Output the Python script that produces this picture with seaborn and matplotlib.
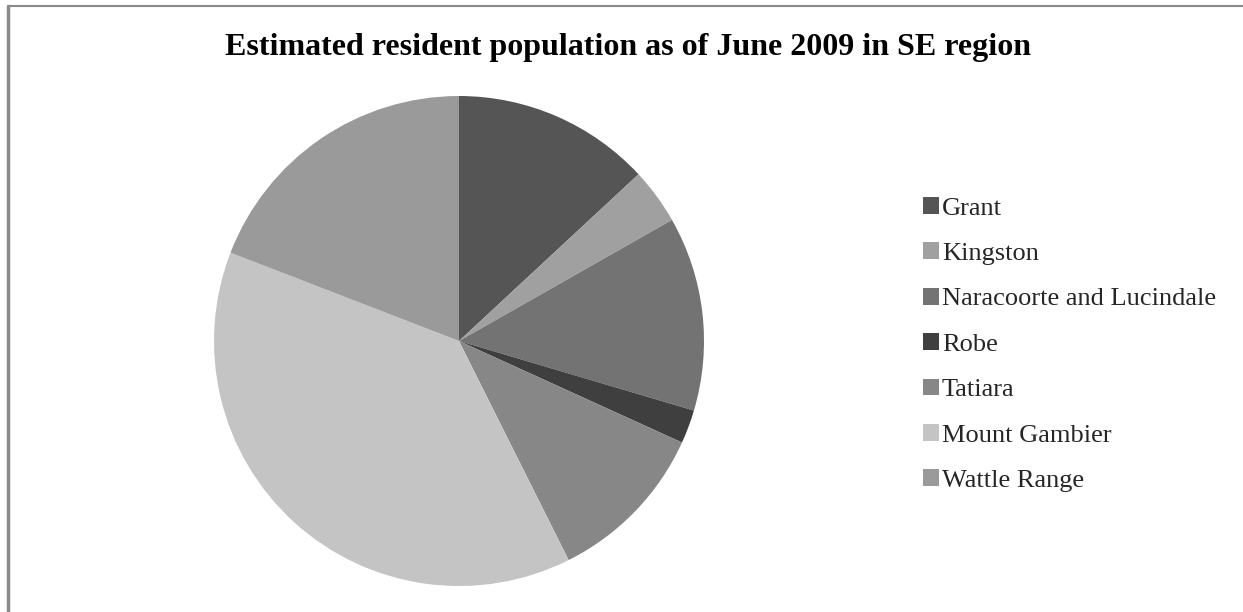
import matplotlib
matplotlib.use("Agg")
import matplotlib.pyplot as plt
import seaborn as sns
from matplotlib.patches import Patch
from matplotlib.lines import Line2D

categories = ["Grant", "Kingston", "Naracoorte and Lucindale", "Robe",
              "Tatiara", "Mount Gambier", "Wattle Range"]
population = [8450, 2380, 8270, 1430, 6980, 24700, 12350]
colors = ["#555555", "#a0a0a0", "#737373", "#3f3f3f", "#878787", "#c4c4c4", "#9a9a9a"]
title = "Estimated resident population as of June 2009 in SE region"

sns.set_theme(style="white")
plt.rcParams["font.family"] = ["Liberation Serif", "DejaVu Serif"]

W, H = 1243, 612
fig = plt.figure(figsize=(W / 100, H / 100), dpi=100)
fig.patch.set_facecolor("white")

# pie axes: center (459, 341), radius 245 px
cx, cy, r = 459, 341, 245
ax = fig.add_axes([(cx - r) / W, (H - cy - r) / H, 2 * r / W, 2 * r / H])
wedges, _ = ax.pie(population, colors=colors, startangle=90, counterclock=False,
                   radius=1, wedgeprops=dict(linewidth=0))
ax.set_xlim(-1, 1)
ax.set_ylim(-1, 1)
ax.set_aspect("equal")
ax.axis("off")

fig.text(628 / W, 1 - 48 / H, title, ha="center", va="center",
         fontsize=23, fontweight="bold", color="black")

# legend
handles = [Patch(facecolor=c, edgecolor="none") for c in colors]
leg = fig.legend(handles, categories, loc="upper left",
                 bbox_to_anchor=(923 / W, 1 - 197 / H), frameon=False,
                 fontsize=19, handlelength=0.6, handleheight=0.6,
                 handletextpad=0.12, labelspacing=0.86, borderpad=0,
                 borderaxespad=0)

# outer frame (top and left edges visible)
fig.add_artist(Line2D([8 / W, 8 / W], [0, 1 - 6 / H], transform=fig.transFigure,
                      color="#8a8a8a", linewidth=2.5))
fig.add_artist(Line2D([8 / W, 1], [1 - 6 / H, 1 - 6 / H], transform=fig.transFigure,
                      color="#8a8a8a", linewidth=1.5))

fig.savefig("out.png", dpi=100, facecolor="white")
